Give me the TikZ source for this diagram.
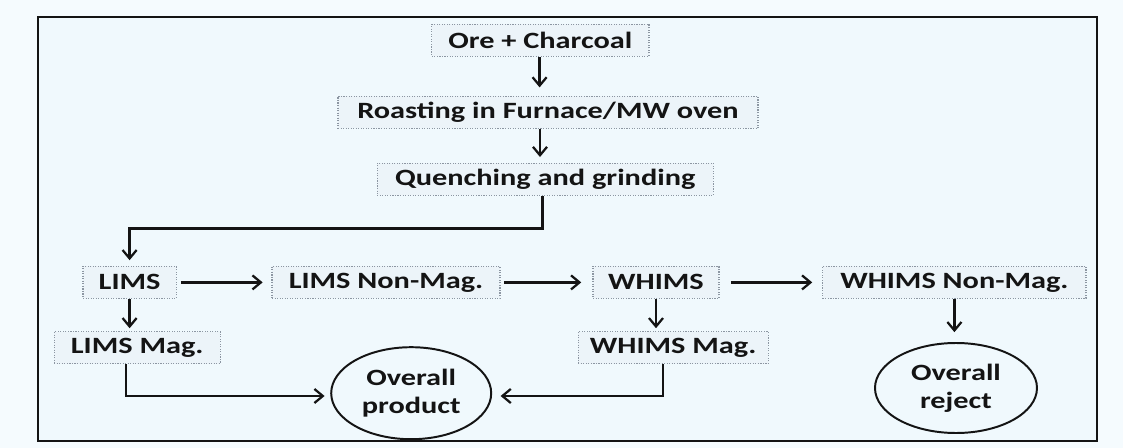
\documentclass[tikz,border=0pt]{standalone}
\usepackage{fontspec}
\setmainfont{Carlito}[FakeStretch=1.3]
\usepackage{tikz}
\usepackage{xcolor}
\definecolor{pagebg}{RGB}{245,251,254}
\definecolor{framebg}{RGB}{240,249,253}
\definecolor{boxfill}{RGB}{236,244,249}
\definecolor{boxline}{RGB}{140,150,162}
\definecolor{inkline}{RGB}{20,20,20}
\usetikzlibrary{arrows.meta, shapes.geometric, positioning}

\begin{document}
\begin{tikzpicture}[
          frame/.style={
              draw=inkline,
              fill=framebg,
              line width=1.4pt
            },
          stepbox/.style={
              draw=boxline,
              fill=boxfill,
              densely dotted,
              line width=0.8pt,
              minimum height=0.8cm,
              inner sep=0pt,
              font=\fontsize{16.6}{20}\selectfont\bfseries,
              text=inkline,
              align=center
            },
          outcome/.style={
              ellipse,
              draw=inkline,
              fill=framebg,
              line width=1.4pt,
              minimum width=4.0cm,
              minimum height=2.3cm,
              inner sep=0pt,
              font=\fontsize{16.6}{20}\selectfont\bfseries,
              text=inkline,
              align=center
            },
          arr/.style={-{Straight Barb[length=6pt,width=10pt]}, inkline, line width=1.6pt, shorten >=2pt}
        ]
        \useasboundingbox[fill=pagebg] (0,0) rectangle (28.075,-11.2);
        \draw[frame] (0.95,-0.425) rectangle (27.425,-11.025);

        \node[stepbox, minimum width=5.43cm] (ore) at (13.51,-1.01) {Ore + Charcoal};
        \node[stepbox, minimum width=10.5cm] (roast) at (13.70,-2.81) {Roasting in Furnace/MW oven};
        \node[stepbox, minimum width=8.4cm] (quench) at (13.63,-4.48) {Quenching and grinding};

        \node[stepbox, minimum width=2.33cm] (lims) at (3.24,-7.06) {LIMS};
        \node[stepbox, minimum width=5.7cm] (lims_non) at (9.65,-7.06) {LIMS Non-Mag.};
        \node[stepbox, minimum width=3.15cm] (whims) at (16.4,-7.06) {WHIMS};
        \node[stepbox, minimum width=6.58cm] (whims_non) at (23.86,-7.06) {WHIMS Non-Mag.};
        \node[stepbox, minimum width=4.15cm] (lims_mag) at (3.43,-8.69) {LIMS Mag.};
        \node[stepbox, minimum width=4.75cm] (whims_mag) at (16.83,-8.69) {WHIMS Mag.};

        \node[outcome] (product) at (10.28,-9.83) {Overall\\product};
        \node[outcome, minimum width=4.05cm, minimum height=2.25cm] (reject) at (23.9,-9.7) {Overall\\reject};

        \draw[arr, shorten >=6pt] ([xshift=-0.02cm]ore.south) -- ([xshift=-0.02cm]ore.south |- roast.north);
        \draw[arr, shorten >=4pt] ([xshift=-0.2cm]roast.south) -- ([xshift=-0.2cm]roast.south |- quench.north);
        \draw[arr, shorten >=4pt] ([xshift=-0.07cm]quench.south) -- ++(0,-0.82) -| (lims.north);

        \draw[arr, shorten <=0.1cm, shorten >=0.22cm] (lims) -- (lims_non);
        \draw[arr, shorten <=0.08cm, shorten >=0.28cm] (lims_non) -- (whims);
        \draw[arr, shorten <=0.28cm, shorten >=0.25cm] (whims) -- (whims_non);

        \draw[arr] (lims.south) -- (lims.south |- lims_mag.north);
        \draw[arr] (whims.south) -- (whims.south |- whims_mag.north);
        \draw[arr, shorten >=7pt] (whims_non.south) -- (whims_non.south |- reject.north);

        \draw[arr, shorten >=4pt] ([xshift=-0.28cm]lims_mag.south) |- ([yshift=-0.07cm]product.west);
        \draw[arr, shorten >=6pt] ([xshift=-0.25cm]whims_mag.south) |- ([yshift=-0.07cm]product.east);
      \end{tikzpicture}
\end{document}
